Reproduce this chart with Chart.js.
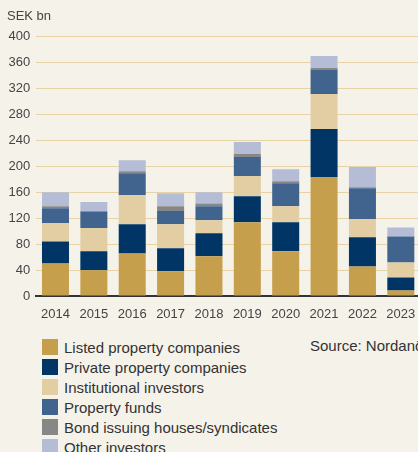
<!DOCTYPE html>
<html>
<head>
<meta charset="utf-8">
<script src="https://cdn.jsdelivr.net/npm/chart.js@4"></script>
<style>
	html, body { margin: 0; padding: 0; background: #f5f2ea; overflow: hidden; width: 418px; height: 452px; }
	#wrap { position: absolute; left: 0; top: 0; width: 420px; height: 330px; }
	#legend { position: absolute; left: 42px; top: 337px; font: 15px "Liberation Sans", Arial, sans-serif; color: #333; }
	.item { height: 20px; display: flex; align-items: center; white-space: nowrap; }
	.box { width: 16px; height: 16px; margin-right: 6px; }
	#source { position: absolute; left: 310px; top: 337px; height: 20px; line-height: 20px; font: 15px "Liberation Sans", Arial, sans-serif; color: #333; white-space: nowrap; }
</style>
</head>
<body>
<div id="wrap"><canvas id="myChart" width="420" height="330"></canvas></div>
<div id="legend"></div>
<div id="source">Source: Nordanö</div>
<script>
// data, SEK bn
var years = ["2014", "2015", "2016", "2017", "2018", "2019", "2020", "2021", "2022", "2023"];
var listed = [50, 39.5, 65.5, 38, 61, 113.5, 69, 183, 45.5, 8.5];
var privateCos = [34, 29.5, 45, 35.5, 35.5, 40, 44.5, 74, 45, 20];
var institutional = [28, 35.5, 44.5, 37, 20, 31, 24.5, 54, 27.5, 23];
var funds = [23, 25, 34, 20.5, 21.5, 29.5, 35.5, 37, 48, 40];
var bondHouses = [3, 1.5, 3, 7, 4.5, 4.5, 3, 3, 1.5, 0];
var otherInv = [21.5, 13.5, 17, 20, 17, 18.5, 18.5, 18.5, 31, 14];
var yTicks = [0, 40, 80, 120, 160, 200, 240, 280, 320, 360, 400];

var labels = [
	"Listed property companies",
	"Private property companies",
	"Institutional investors",
	"Property funds",
	"Bond issuing houses/syndicates",
	"Other investors",
];
var colors = ["#c69f4c", "#003566", "#e3cea3", "#41648f", "#878787", "#b5bdd6"];
var series = [listed, privateCos, institutional, funds, bondHouses, otherInv];

var font = "'Liberation Sans', Arial, sans-serif";

var chart = new Chart(document.getElementById("myChart").getContext("2d"), {
	type: "bar",
	data: {
		labels: years,
		datasets: series.map((d, i) => ({
			label: labels[i],
			data: d,
			backgroundColor: colors[i],
			borderWidth: 0,
			stack: "a",
			barPercentage: 0.704,
			categoryPercentage: 1,
		})),
	},
	options: {
		responsive: false,
		animation: false,
		layout: { padding: { left: 7, right: 0, top: 0, bottom: 0 } },
		plugins: {
			legend: { display: false },
			tooltip: { enabled: false },
			title: {
				display: true,
				text: "SEK bn",
				align: "start",
				color: "#444",
				font: { family: font, size: 13, weight: "normal" },
				padding: { top: 9, bottom: 11.5 },
			},
		},
		scales: {
			x: {
				stacked: true,
				grid: { display: false },
				border: { display: true, color: "#333", width: 2 },
				ticks: { color: "#444", font: { family: font, size: 13 }, padding: 3, maxRotation: 0 },
				afterFit: (s) => {
					s.height = 34;
				},
			},
			y: {
				stacked: true,
				min: 0,
				max: 400,
				afterBuildTicks: (axis) => {
					axis.ticks = yTicks.map((v) => ({ value: v }));
				},
				afterFit: (s) => {
					s.width = 29.3;
				},
				grid: { color: "#e8d3a6", lineWidth: 1, drawTicks: false },
				border: { display: false },
				ticks: { color: "#444", font: { family: font, size: 13 }, padding: 6 },
			},
		},
	},
});

// legend as a plain vertical list, like the original
var legend = document.getElementById("legend");
labels.forEach((lab, i) => {
	var row = document.createElement("div");
	row.className = "item";
	var box = document.createElement("span");
	box.className = "box";
	box.style.background = colors[i];
	row.appendChild(box);
	row.appendChild(document.createTextNode(lab));
	legend.appendChild(row);
});
</script>
</body>
</html>
